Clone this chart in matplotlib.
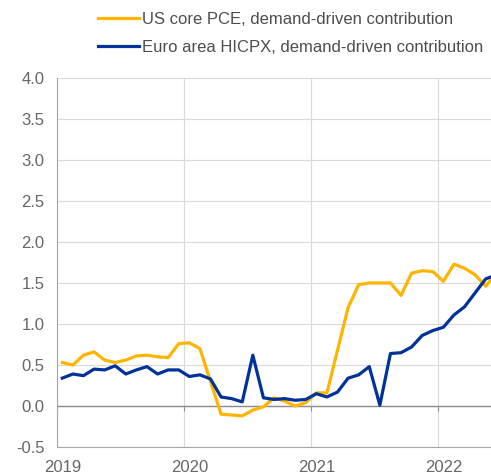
import numpy as np
import matplotlib.pyplot as plt
import matplotlib.transforms as mtransforms

plt.rcParams['font.family'] = ['Liberation Sans', 'DejaVu Sans']

# monthly values, Jan 2019 onwards
us_pce = [0.53, 0.50, 0.62, 0.66, 0.56, 0.53, 0.56, 0.61, 0.62, 0.60, 0.59, 0.76,
          0.77, 0.70, 0.30, -0.10, -0.11, -0.12, -0.05, -0.01, 0.10, 0.06, 0.00, 0.04,
          0.16, 0.16, 0.68, 1.20, 1.48, 1.50, 1.50, 1.50, 1.35, 1.62, 1.65, 1.64,
          1.52, 1.73, 1.68, 1.60, 1.46, 1.62]
ea_hicpx = [0.34, 0.39, 0.37, 0.45, 0.44, 0.49, 0.39, 0.44, 0.48, 0.39, 0.44, 0.44,
            0.36, 0.38, 0.33, 0.11, 0.09, 0.05, 0.62, 0.10, 0.08, 0.09, 0.07, 0.08,
            0.15, 0.11, 0.17, 0.34, 0.38, 0.48, 0.01, 0.64, 0.65, 0.72, 0.86, 0.92,
            0.96, 1.11, 1.21, 1.38, 1.55, 1.60]
years = ['2019', '2020', '2021', '2022']
series_names = ['US core PCE, demand-driven contribution',
                'Euro area HICPX, demand-driven contribution']

months = np.arange(len(us_pce)) + 0.5
year_pos = np.arange(len(years)) * 12

fig = plt.figure(figsize=(4.91, 4.75), dpi=100)
ax = fig.add_axes([57 / 491, 28 / 475, 434 / 491, 369 / 475])

grey = '#d9d9d9'
ax.set_axisbelow(True)
ax.grid(True, color=grey, linewidth=0.8)
ax.axhline(0, color='#8c8c8c', linewidth=1.0, zorder=1)
ax.vlines(year_pos, -0.06, 0, color='#8c8c8c', linewidth=0.8, zorder=1)

l1, = ax.plot(months, us_pce, color='#FFB400', linewidth=2.3, zorder=3)
l2, = ax.plot(months, ea_hicpx, color='#003299', linewidth=2.3, zorder=4)

ax.set_xlim(0, 41.0)
ax.set_ylim(-0.5, 4.0)
ax.set_yticks(np.arange(-0.5, 4.01, 0.5))
ax.set_yticklabels(['%.1f' % v for v in np.arange(-0.5, 4.01, 0.5)])
ax.set_xticks(year_pos)
ax.set_xticklabels(years)

for s in ['top', 'right']:
    ax.spines[s].set_visible(False)
for s in ['left', 'bottom']:
    ax.spines[s].set_color('#a6a6a6')
    ax.spines[s].set_linewidth(0.8)
ax.tick_params(axis='y', length=0, labelcolor='#666666', labelsize=12, pad=9)
ax.tick_params(axis='x', length=0, labelcolor='#666666', labelsize=12, pad=9)

# year labels sit slightly right of the gridlines in the original
shift = mtransforms.ScaledTranslation(0.06, 0, fig.dpi_scale_trans)
for lab in ax.get_xticklabels():
    lab.set_transform(lab.get_transform() + shift)

fig.legend([l1, l2], series_names, loc='upper left',
           bbox_to_anchor=(86 / 491, 1.0), frameon=False, fontsize=12,
           handlelength=2.45, handletextpad=0.18, labelspacing=0.8,
           labelcolor='#4d4d4d', borderaxespad=0.3)

fig.savefig('out.png', dpi=100)
